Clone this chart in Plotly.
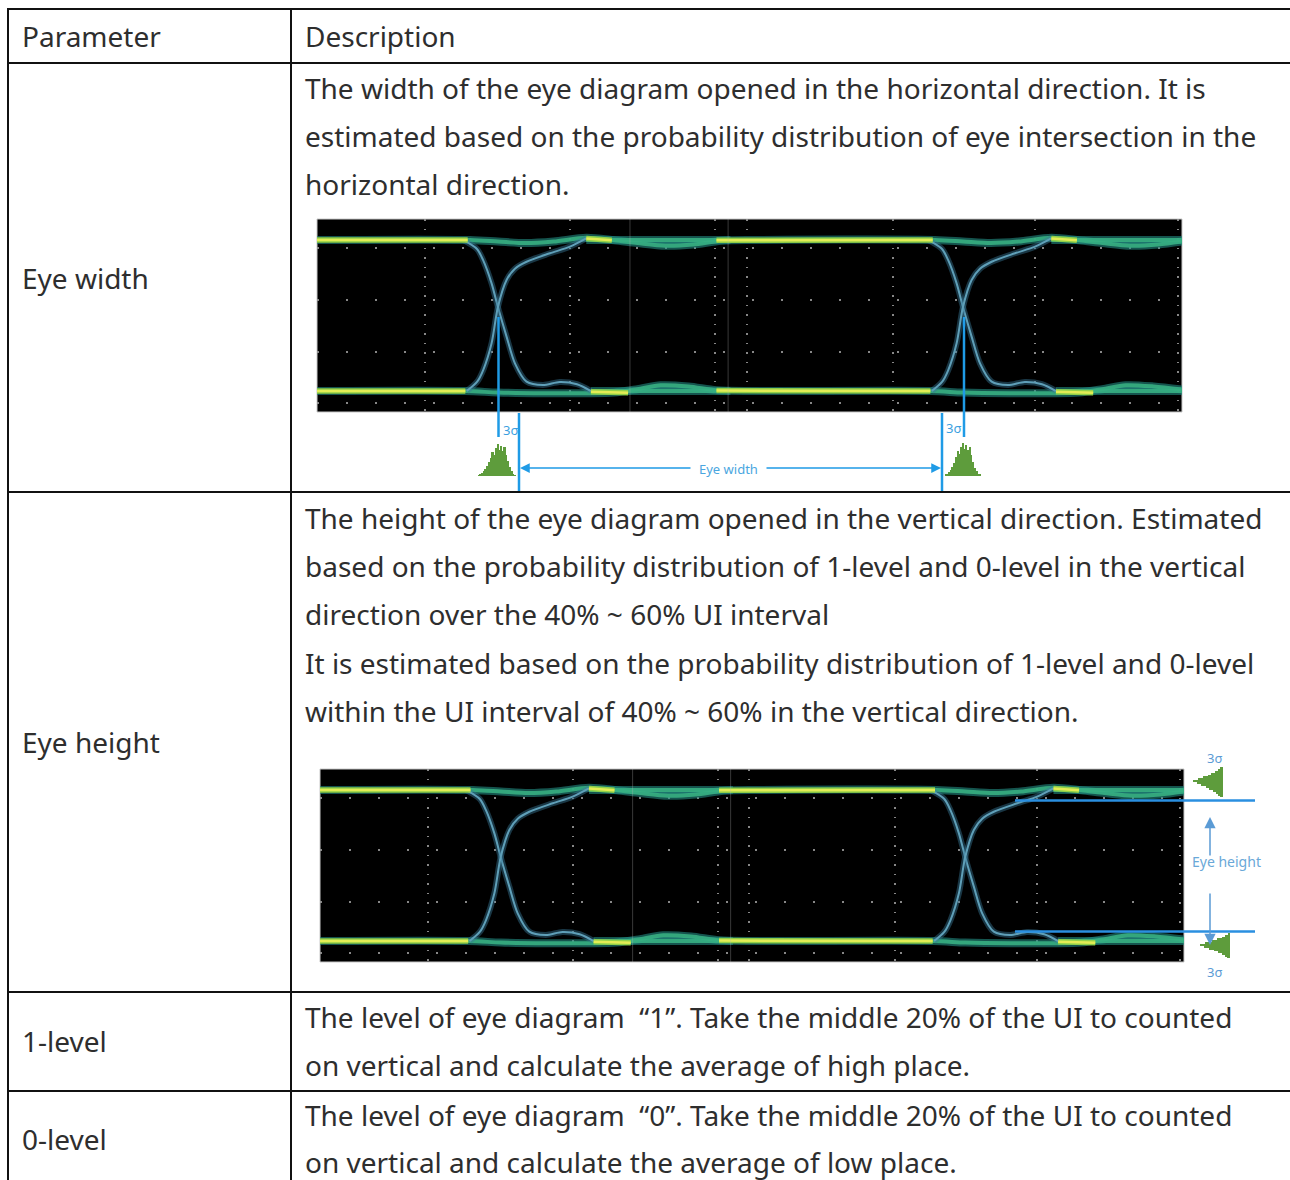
import plotly.graph_objects as go

W, H = 1290, 1180

# ---------------- table text ----------------
PARAM_LABELS = ["Parameter", "Eye width", "Eye height", "1-level", "0-level"]
DESC_HEADER = ["Description"]
DESC_EYE_WIDTH = [
    "The width of the eye diagram opened in the horizontal direction. It is",
    "estimated based on the probability distribution of eye intersection in the",
    "horizontal direction.",
]
DESC_EYE_HEIGHT = [
    "The height of the eye diagram opened in the vertical direction. Estimated",
    "based on the probability distribution of 1-level and 0-level in the vertical",
    "direction over the 40% ~ 60% UI interval",
    "It is estimated based on the probability distribution of 1-level and 0-level",
    "within the UI interval of 40% ~ 60% in the vertical direction.",
]
DESC_ONE_LEVEL = [
    "The level of eye diagram  “1”. Take the middle 20% of the UI to counted",
    "on vertical and calculate the average of high place.",
]
DESC_ZERO_LEVEL = [
    "The level of eye diagram  “0”. Take the middle 20% of the UI to counted",
    "on vertical and calculate the average of low place.",
]
DESCRIPTIONS = [DESC_HEADER, DESC_EYE_WIDTH, DESC_EYE_HEIGHT, DESC_ONE_LEVEL, DESC_ZERO_LEVEL]

# ---------------- eye diagram traces (x in UI, y: 0-level=0, 1-level=1) ----------------
TOP_BAND_U = [-0.389, -0.06, 0.0, 0.06, 0.12, 0.19, 0.25, 0.30, 0.36, 0.42, 0.48, 0.55, 0.94,
              1.0, 1.06, 1.12, 1.19, 1.25, 1.30, 1.36, 1.42, 1.471]
TOP_BAND_V = [1.0, 1.0, 0.99, 0.98, 0.99, 1.015, 0.998, 0.98, 0.962, 0.97, 0.995, 1.0, 1.0,
              0.99, 0.98, 0.99, 1.015, 0.998, 0.98, 0.962, 0.97, 0.99]
TOP_FLAT_U = [0.19, 0.50, None, 1.19, 1.471]
TOP_FLAT_V = [1.0, 1.0, None, 1.0, 1.0]
BOT_BAND_U = [-0.389, -0.07, 0.0, 0.10, 0.19, 0.25, 0.30, 0.35, 0.41, 0.47, 0.55, 0.93,
              1.0, 1.10, 1.19, 1.25, 1.30, 1.35, 1.41, 1.471]
BOT_BAND_V = [0.0, 0.0, -0.01, -0.015, -0.015, -0.01, 0.012, 0.038, 0.03, 0.005, 0.0, 0.0,
              -0.01, -0.015, -0.015, -0.01, 0.012, 0.038, 0.03, 0.01]
BOT_FLAT_U = [0.20, 0.50, None, 1.20, 1.471]
BOT_FLAT_V = [0.0, 0.0, None, 0.0, 0.0]
TOP_CORE_U = [-0.389, -0.065, None, 0.19, 0.245, None, 0.47, 0.935, None, 1.19, 1.245]
TOP_CORE_V = [1.0, 1.0, None, 1.01, 0.998, None, 0.998, 1.0, None, 1.01, 0.998]
BOT_CORE_U = [-0.389, -0.07, None, 0.20, 0.28, None, 0.47, 0.93, None, 1.20, 1.28]
BOT_CORE_V = [0.0, 0.0, None, -0.005, -0.012, None, 0.003, 0.0, None, -0.005, -0.012]
FALL_U = [-0.075, -0.045, -0.032, -0.0136, 0.0, 0.0186, 0.0366, 0.0616, 0.097, 0.133, 0.17, 0.20, None,
          0.925, 0.955, 0.968, 0.9864, 1.0, 1.0186, 1.0366, 1.0616, 1.097, 1.133, 1.17, 1.20]
FALL_V = [1.0, 0.94, 0.868, 0.713, 0.556, 0.36, 0.183, 0.062, 0.04, 0.06, 0.045, 0.0, None,
          1.0, 0.94, 0.868, 0.713, 0.556, 0.36, 0.183, 0.062, 0.04, 0.06, 0.045, 0.0]
RISE_U = [-0.067, -0.045, -0.0316, -0.0136, 0.0, 0.0186, 0.0366, 0.0616, 0.112, 0.155, 0.19, None,
          0.933, 0.955, 0.9684, 0.9864, 1.0, 1.0186, 1.0366, 1.0616, 1.112, 1.155, 1.19]
RISE_V = [0.0, 0.06, 0.139, 0.316, 0.556, 0.735, 0.81, 0.856, 0.912, 0.956, 1.01, None,
          0.0, 0.06, 0.139, 0.316, 0.556, 0.735, 0.81, 0.856, 0.912, 0.956, 1.01]

GRID_U = [-0.157, 0.155, 0.467, 0.535, 0.849, 1.155, 1.462]
GRID_V = [-0.079, 0.258, 0.603, 0.947]
STITCH_U = [0.284, 0.495]

# ---------------- jitter / level histograms ----------------
EYE_WIDTH_HIST_L = [1, 2, 3, 5, 7, 10, 14, 19, 25, 22, 29, 33, 27, 31, 26, 30, 22, 15, 9, 5, 2, 1]
EYE_WIDTH_HIST_R = [1, 2, 4, 6, 9, 13, 18, 24, 21, 28, 32, 26, 30, 25, 28, 20, 14, 8, 5, 2, 1]
EYE_HEIGHT_HIST_TOP = [3, 5, 8, 11, 15, 19, 24, 29, 33, 28, 22, 17, 13, 9, 6, 3]
EYE_HEIGHT_HIST_BOT = [3, 6, 9, 13, 18, 23, 29, 33, 27, 20, 14, 9, 5, 2]

X_RANGE = [-0.389, 1.471]
Y_RANGE = [-0.139, 1.139]


def px(x):
    return x / W


def py(y):
    return 1 - y / H


def dom_x(a, b):
    return [a / W, b / W]


def dom_y(top, bottom):
    return [1 - bottom / H, 1 - top / H]


fig = go.Figure()

SPL = dict(shape="spline", smoothing=0.8)
EYE_AXES = [("x", "y"), ("x2", "y2")]
for xa, ya in EYE_AXES:
    for u, v in [(TOP_FLAT_U, TOP_FLAT_V), (BOT_FLAT_U, BOT_FLAT_V),
                 (TOP_BAND_U, TOP_BAND_V), (BOT_BAND_U, BOT_BAND_V)]:
        fig.add_trace(go.Scatter(x=u, y=v, xaxis=xa, yaxis=ya, mode="lines",
                                 line=dict(color="rgba(35,140,130,0.6)", width=8, **SPL),
                                 hoverinfo="skip", showlegend=False))
    for u, v in [(TOP_FLAT_U, TOP_FLAT_V), (BOT_FLAT_U, BOT_FLAT_V),
                 (TOP_BAND_U, TOP_BAND_V), (BOT_BAND_U, BOT_BAND_V)]:
        fig.add_trace(go.Scatter(x=u, y=v, xaxis=xa, yaxis=ya, mode="lines",
                                 line=dict(color="rgba(55,175,130,0.9)", width=4, **SPL),
                                 hoverinfo="skip", showlegend=False))
    for u, v in [(FALL_U, FALL_V), (RISE_U, RISE_V)]:
        fig.add_trace(go.Scatter(x=u, y=v, xaxis=xa, yaxis=ya, mode="lines",
                                 line=dict(color="rgba(55,120,150,0.45)", width=6, **SPL),
                                 hoverinfo="skip", showlegend=False))
        fig.add_trace(go.Scatter(x=u, y=v, xaxis=xa, yaxis=ya, mode="lines",
                                 line=dict(color="#5f9fb8", width=2, **SPL),
                                 hoverinfo="skip", showlegend=False))
    for u, v in [(TOP_CORE_U, TOP_CORE_V), (BOT_CORE_U, BOT_CORE_V)]:
        fig.add_trace(go.Scatter(x=u, y=v, xaxis=xa, yaxis=ya, mode="lines",
                                 line=dict(color="rgba(150,210,70,0.95)", width=5.5, shape="spline", smoothing=0.6),
                                 hoverinfo="skip", showlegend=False))
        fig.add_trace(go.Scatter(x=u, y=v, xaxis=xa, yaxis=ya, mode="lines",
                                 line=dict(color="#e2ec55", width=2.5, shape="spline", smoothing=0.6),
                                 hoverinfo="skip", showlegend=False))

HIST_GREEN = "#5e9c3c"
fig.add_trace(go.Bar(x=list(range(len(EYE_WIDTH_HIST_L))), y=EYE_WIDTH_HIST_L, xaxis="x3", yaxis="y3",
                     marker=dict(color=HIST_GREEN, line=dict(width=0)), hoverinfo="skip", showlegend=False))
fig.add_trace(go.Bar(x=list(range(len(EYE_WIDTH_HIST_R))), y=EYE_WIDTH_HIST_R, xaxis="x4", yaxis="y4",
                     marker=dict(color=HIST_GREEN, line=dict(width=0)), hoverinfo="skip", showlegend=False))
fig.add_trace(go.Bar(y=list(range(len(EYE_HEIGHT_HIST_TOP))), x=EYE_HEIGHT_HIST_TOP, orientation="h",
                     xaxis="x5", yaxis="y5", marker=dict(color=HIST_GREEN, line=dict(width=0)),
                     hoverinfo="skip", showlegend=False))
fig.add_trace(go.Bar(y=list(range(len(EYE_HEIGHT_HIST_BOT))), x=EYE_HEIGHT_HIST_BOT, orientation="h",
                     xaxis="x6", yaxis="y6", marker=dict(color=HIST_GREEN, line=dict(width=0)),
                     hoverinfo="skip", showlegend=False))

hidden = dict(showgrid=False, zeroline=False, showline=False, showticklabels=False, ticks="", fixedrange=True)


def eye_x(dom):
    return dict(domain=dom, range=X_RANGE, tickmode="array", tickvals=GRID_U, showgrid=True,
                gridcolor="rgba(150,150,150,0.9)", gridwidth=1.5, griddash="1.5px,8px",
                zeroline=False, showline=False, showticklabels=False, ticks="", fixedrange=True)


def eye_y(dom):
    return dict(domain=dom, range=Y_RANGE, tickmode="array", tickvals=GRID_V, showgrid=True,
                gridcolor="rgba(150,150,150,0.9)", gridwidth=1.5, griddash="2px,27px",
                zeroline=False, showline=False, showticklabels=False, ticks="", fixedrange=True)


layout = dict(
    width=W, height=H, margin=dict(l=0, r=0, t=0, b=0),
    paper_bgcolor="white", plot_bgcolor="rgba(0,0,0,0)",
    showlegend=False, bargap=0,
    xaxis=eye_x(dom_x(317, 1182)), yaxis=eye_y(dom_y(219, 412)),
    xaxis2=eye_x(dom_x(320, 1184)), yaxis2=eye_y(dom_y(769, 962)),
    xaxis3=dict(domain=dom_x(478, 516), range=[-0.5, len(EYE_WIDTH_HIST_L) - 0.5], **hidden),
    yaxis3=dict(domain=dom_y(444, 476), range=[0, max(EYE_WIDTH_HIST_L)], **hidden),
    xaxis4=dict(domain=dom_x(945, 981), range=[-0.5, len(EYE_WIDTH_HIST_R) - 0.5], **hidden),
    yaxis4=dict(domain=dom_y(443, 476), range=[0, max(EYE_WIDTH_HIST_R)], **hidden),
    xaxis5=dict(domain=dom_x(1193, 1223), range=[max(EYE_HEIGHT_HIST_TOP), 0], **hidden),
    yaxis5=dict(domain=dom_y(767, 797), range=[-0.5, len(EYE_HEIGHT_HIST_TOP) - 0.5], **hidden),
    xaxis6=dict(domain=dom_x(1200, 1230), range=[max(EYE_HEIGHT_HIST_BOT), 0], **hidden),
    yaxis6=dict(domain=dom_y(933, 958), range=[-0.5, len(EYE_HEIGHT_HIST_BOT) - 0.5], **hidden),
)
fig.update_layout(**layout)

shapes = []
for xa, ya in EYE_AXES:
    shapes.append(dict(type="rect", xref=f"{xa} domain", yref=f"{ya} domain", x0=0, x1=1, y0=0, y1=1,
                       fillcolor="black", line=dict(color="#c8c8c8", width=1), layer="below"))
    for su in STITCH_U:
        shapes.append(dict(type="line", xref=xa, yref=f"{ya} domain", x0=su, x1=su, y0=0, y1=1,
                           line=dict(color="rgba(190,190,190,0.3)", width=1)))

TABLE_LINE = dict(color="#111111", width=2)
shapes.append(dict(type="line", xref="paper", yref="paper", x0=px(7), x1=px(1290), y0=py(9), y1=py(9), line=TABLE_LINE))
shapes.append(dict(type="line", xref="paper", yref="paper", x0=px(8), x1=px(8), y0=py(9), y1=py(1180), line=TABLE_LINE))
shapes.append(dict(type="line", xref="paper", yref="paper", x0=px(291), x1=px(291), y0=py(9), y1=py(1180), line=TABLE_LINE))
for yy in [63, 492, 992, 1091]:
    shapes.append(dict(type="line", xref="paper", yref="paper", x0=px(7), x1=px(1290), y0=py(yy), y1=py(yy), line=TABLE_LINE))

MARK_BLUE = "#1f9be6"
for (xx, y0, y1) in [(498.5, 317, 437), (519, 413, 491), (942, 413, 491), (964, 317, 437)]:
    shapes.append(dict(type="line", xref="paper", yref="paper", x0=px(xx), x1=px(xx), y0=py(y0), y1=py(y1),
                       line=dict(color=MARK_BLUE, width=2.5)))
for yy in [800.5, 931.5]:
    shapes.append(dict(type="line", xref="paper", yref="paper", x0=px(1015), x1=px(1255), y0=py(yy), y1=py(yy),
                       line=dict(color="#2a8fe0", width=2.5)))
fig.update_layout(shapes=shapes)

annotations = []
TEXT_FONT = dict(family="Noto Sans, sans-serif", size=28, color="#2e2e2e")
DY = -1
PARAM_Y = [37, 279, 743, 1042, 1140]
DESC_Y = [[37], [89, 137, 185], [519, 567, 615, 664, 712], [1018, 1066], [1116, 1163]]
for label, yy in zip(PARAM_LABELS, PARAM_Y):
    annotations.append(dict(text=label, xref="paper", yref="paper", x=px(21), y=py(yy + DY), xanchor="left",
                            yanchor="middle", showarrow=False, font=TEXT_FONT, borderpad=0))
for lines, ys in zip(DESCRIPTIONS, DESC_Y):
    for line, yy in zip(lines, ys):
        annotations.append(dict(text=line, xref="paper", yref="paper", x=px(304), y=py(yy + DY), xanchor="left",
                                yanchor="middle", showarrow=False, font=TEXT_FONT, borderpad=0))

SMALL_FONT = dict(family="Noto Sans, sans-serif", size=13, color="#3c9fe0")
annotations.append(dict(text="3σ", xref="paper", yref="paper", x=px(501), y=py(430), xanchor="left",
                        yanchor="middle", showarrow=False, font=SMALL_FONT))
annotations.append(dict(text="3σ", xref="paper", yref="paper", x=px(944), y=py(428), xanchor="left",
                        yanchor="middle", showarrow=False, font=SMALL_FONT))
annotations.append(dict(text="Eye width", xref="paper", yref="paper", x=px(728), y=py(469), xanchor="center",
                        yanchor="middle", showarrow=False, font=dict(family="Noto Sans, sans-serif", size=13, color="#4aa6e0")))
annotations.append(dict(text="", xref="paper", yref="paper", x=px(520), y=py(468), ax=172, ay=0,
                        showarrow=True, arrowhead=2, arrowsize=1.3, arrowwidth=1.5, arrowcolor=MARK_BLUE, standoff=0))
annotations.append(dict(text="", xref="paper", yref="paper", x=px(941), y=py(468), ax=-176, ay=0,
                        showarrow=True, arrowhead=2, arrowsize=1.3, arrowwidth=1.5, arrowcolor=MARK_BLUE, standoff=0))
EH_BLUE = "#5b9bd5"
annotations.append(dict(text="", xref="paper", yref="paper", x=px(1210), y=py(817), ax=0, ay=40,
                        showarrow=True, arrowhead=2, arrowsize=1.5, arrowwidth=1.5, arrowcolor=EH_BLUE, standoff=0))
annotations.append(dict(text="", xref="paper", yref="paper", x=px(1210), y=py(945), ax=0, ay=-53,
                        showarrow=True, arrowhead=2, arrowsize=1.5, arrowwidth=1.5, arrowcolor=EH_BLUE, standoff=0))
annotations.append(dict(text="Eye height", xref="paper", yref="paper", x=px(1226), y=py(861), xanchor="center",
                        yanchor="middle", showarrow=False, font=dict(family="Noto Sans, sans-serif", size=14, color="#6aa8d8")))
annotations.append(dict(text="3σ", xref="paper", yref="paper", x=px(1214), y=py(758), xanchor="center",
                        yanchor="middle", showarrow=False, font=dict(family="Noto Sans, sans-serif", size=13, color=EH_BLUE)))
annotations.append(dict(text="3σ", xref="paper", yref="paper", x=px(1214), y=py(972), xanchor="center",
                        yanchor="middle", showarrow=False, font=dict(family="Noto Sans, sans-serif", size=13, color=EH_BLUE)))
fig.update_layout(annotations=annotations)

fig.write_html("out.html", config={"displayModeBar": False},
               post_script="document.body.style.margin='0';document.body.style.padding='0';")
